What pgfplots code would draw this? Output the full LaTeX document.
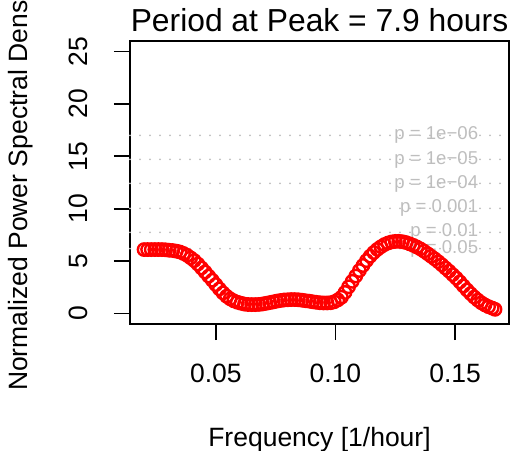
\documentclass[border=0pt]{standalone}
\usepackage{pgfplots}
\pgfplotsset{compat=1.18}
\usepackage{fontspec}
\setmainfont{Liberation Sans}
\definecolor{rgrey}{RGB}{190,190,190}
\newcommand{\basefont}{\fontsize{13.25bp}{15bp}\selectfont}
\newcommand{\titlefont}{\fontsize{15.9bp}{18bp}\selectfont}
\newcommand{\pfont}{\fontsize{9.3bp}{11bp}\selectfont}
\begin{document}
\begin{tikzpicture}
\begin{axis}[
  at={(0,0)}, anchor=south west,
  scale only axis, width=189.5bp, height=141.5bp,
  xmin=0.01413, xmax=0.17254, ymin=-1, ymax=26,
  axis line style={line width=0.9bp},
  every tick/.style={black, line width=0.9bp},
  tick align=outside, major tick length=8bp,
  xtick pos=bottom, ytick pos=left,
  xtick={0.05,0.10,0.15}, xticklabels={0.05,0.10,0.15},
  ytick={0,5,10,15,20,25},
  /pgf/number format/assume math mode=true,
  tick label style={font=\basefont},
  xticklabel style={anchor=base, inner sep=0pt, yshift=-21bp},
  yticklabel style={xshift=-13bp, rotate=90, anchor=base, inner sep=0pt},
  every axis x label/.style={at={(axis description cs:0.5,0)}, anchor=base, yshift=-61bp, font=\basefont},
  every axis y label/.style={at={(axis description cs:0,0.5)}, xshift=-51bp, rotate=90, anchor=base, font=\basefont},
  every axis title shift=0pt,
  title style={at={(axis description cs:0.5,1)}, anchor=base, yshift=5bp, font=\titlefont},
  xlabel={Frequency [1/hour]},
  ylabel={Normalized Power Spectral Density},
  title={Period at Peak = 7.9 hours},
  clip=false,
]
\pgfplotstableread{
f v
0.0200 6.10
0.0215 6.10
0.0230 6.10
0.0245 6.10
0.0260 6.10
0.0275 6.10
0.0290 6.08
0.0305 6.04
0.0320 6.01
0.0335 5.95
0.0350 5.87
0.0365 5.73
0.0380 5.55
0.0395 5.31
0.0410 5.05
0.0425 4.72
0.0440 4.35
0.0455 3.97
0.0470 3.57
0.0485 3.18
0.0500 2.76
0.0515 2.35
0.0530 1.97
0.0545 1.65
0.0560 1.40
0.0575 1.21
0.0590 1.08
0.0605 0.98
0.0620 0.90
0.0635 0.86
0.0650 0.85
0.0665 0.85
0.0680 0.87
0.0695 0.91
0.0710 0.97
0.0725 1.04
0.0740 1.11
0.0755 1.18
0.0770 1.24
0.0785 1.29
0.0800 1.31
0.0815 1.33
0.0830 1.33
0.0845 1.31
0.0860 1.27
0.0875 1.22
0.0890 1.18
0.0905 1.12
0.0920 1.07
0.0935 1.03
0.0950 1.01
0.0965 1.01
0.0980 1.03
0.0995 1.12
0.1010 1.30
0.1025 1.55
0.1040 2.01
0.1055 2.55
0.1070 3.07
0.1085 3.58
0.1100 4.10
0.1115 4.58
0.1130 5.05
0.1145 5.47
0.1160 5.82
0.1175 6.12
0.1190 6.37
0.1205 6.58
0.1220 6.73
0.1235 6.83
0.1250 6.88
0.1265 6.89
0.1280 6.85
0.1295 6.77
0.1310 6.65
0.1325 6.51
0.1340 6.35
0.1355 6.17
0.1370 5.95
0.1385 5.71
0.1400 5.46
0.1415 5.21
0.1430 4.94
0.1445 4.65
0.1460 4.34
0.1475 4.04
0.1490 3.71
0.1505 3.38
0.1520 3.02
0.1535 2.63
0.1550 2.25
0.1565 1.90
0.1580 1.57
0.1595 1.28
0.1610 1.02
0.1625 0.82
0.1640 0.65
0.1655 0.52
0.1667 0.40
}\psd
\foreach \yy in {17.00,14.70,12.41,10.03,7.74,6.19}{
  \edef\temp{\noexpand\draw[rgrey, line width=1bp, line cap=round, dash pattern=on 0pt off 5bp] (axis cs:0.01413,\yy) -- (axis cs:0.17254,\yy);}
  \temp
}
\addplot[only marks, mark=o, mark size=3.1bp, color=red, mark options={line width=1.2bp}] table[x=f,y=v] {\psd};
\foreach \yy/\ll in {17.00/{p = 1e−06},14.70/{p = 1e−05},12.41/{p = 1e−04},10.03/{p = 0.001},7.74/{p = 0.01},6.19/{p = 0.05}}{
  \edef\temp{\noexpand\node[anchor=east, inner sep=0pt, text=rgrey, font=\noexpand\pfont] at (axis cs:0.1598,\yy) {\ll};}
  \temp
}
\end{axis}
\pgfresetboundingbox
\path[use as bounding box] (-65bp,-63.5bp) rectangle (190.5bp,162bp);
\end{tikzpicture}
\end{document}
